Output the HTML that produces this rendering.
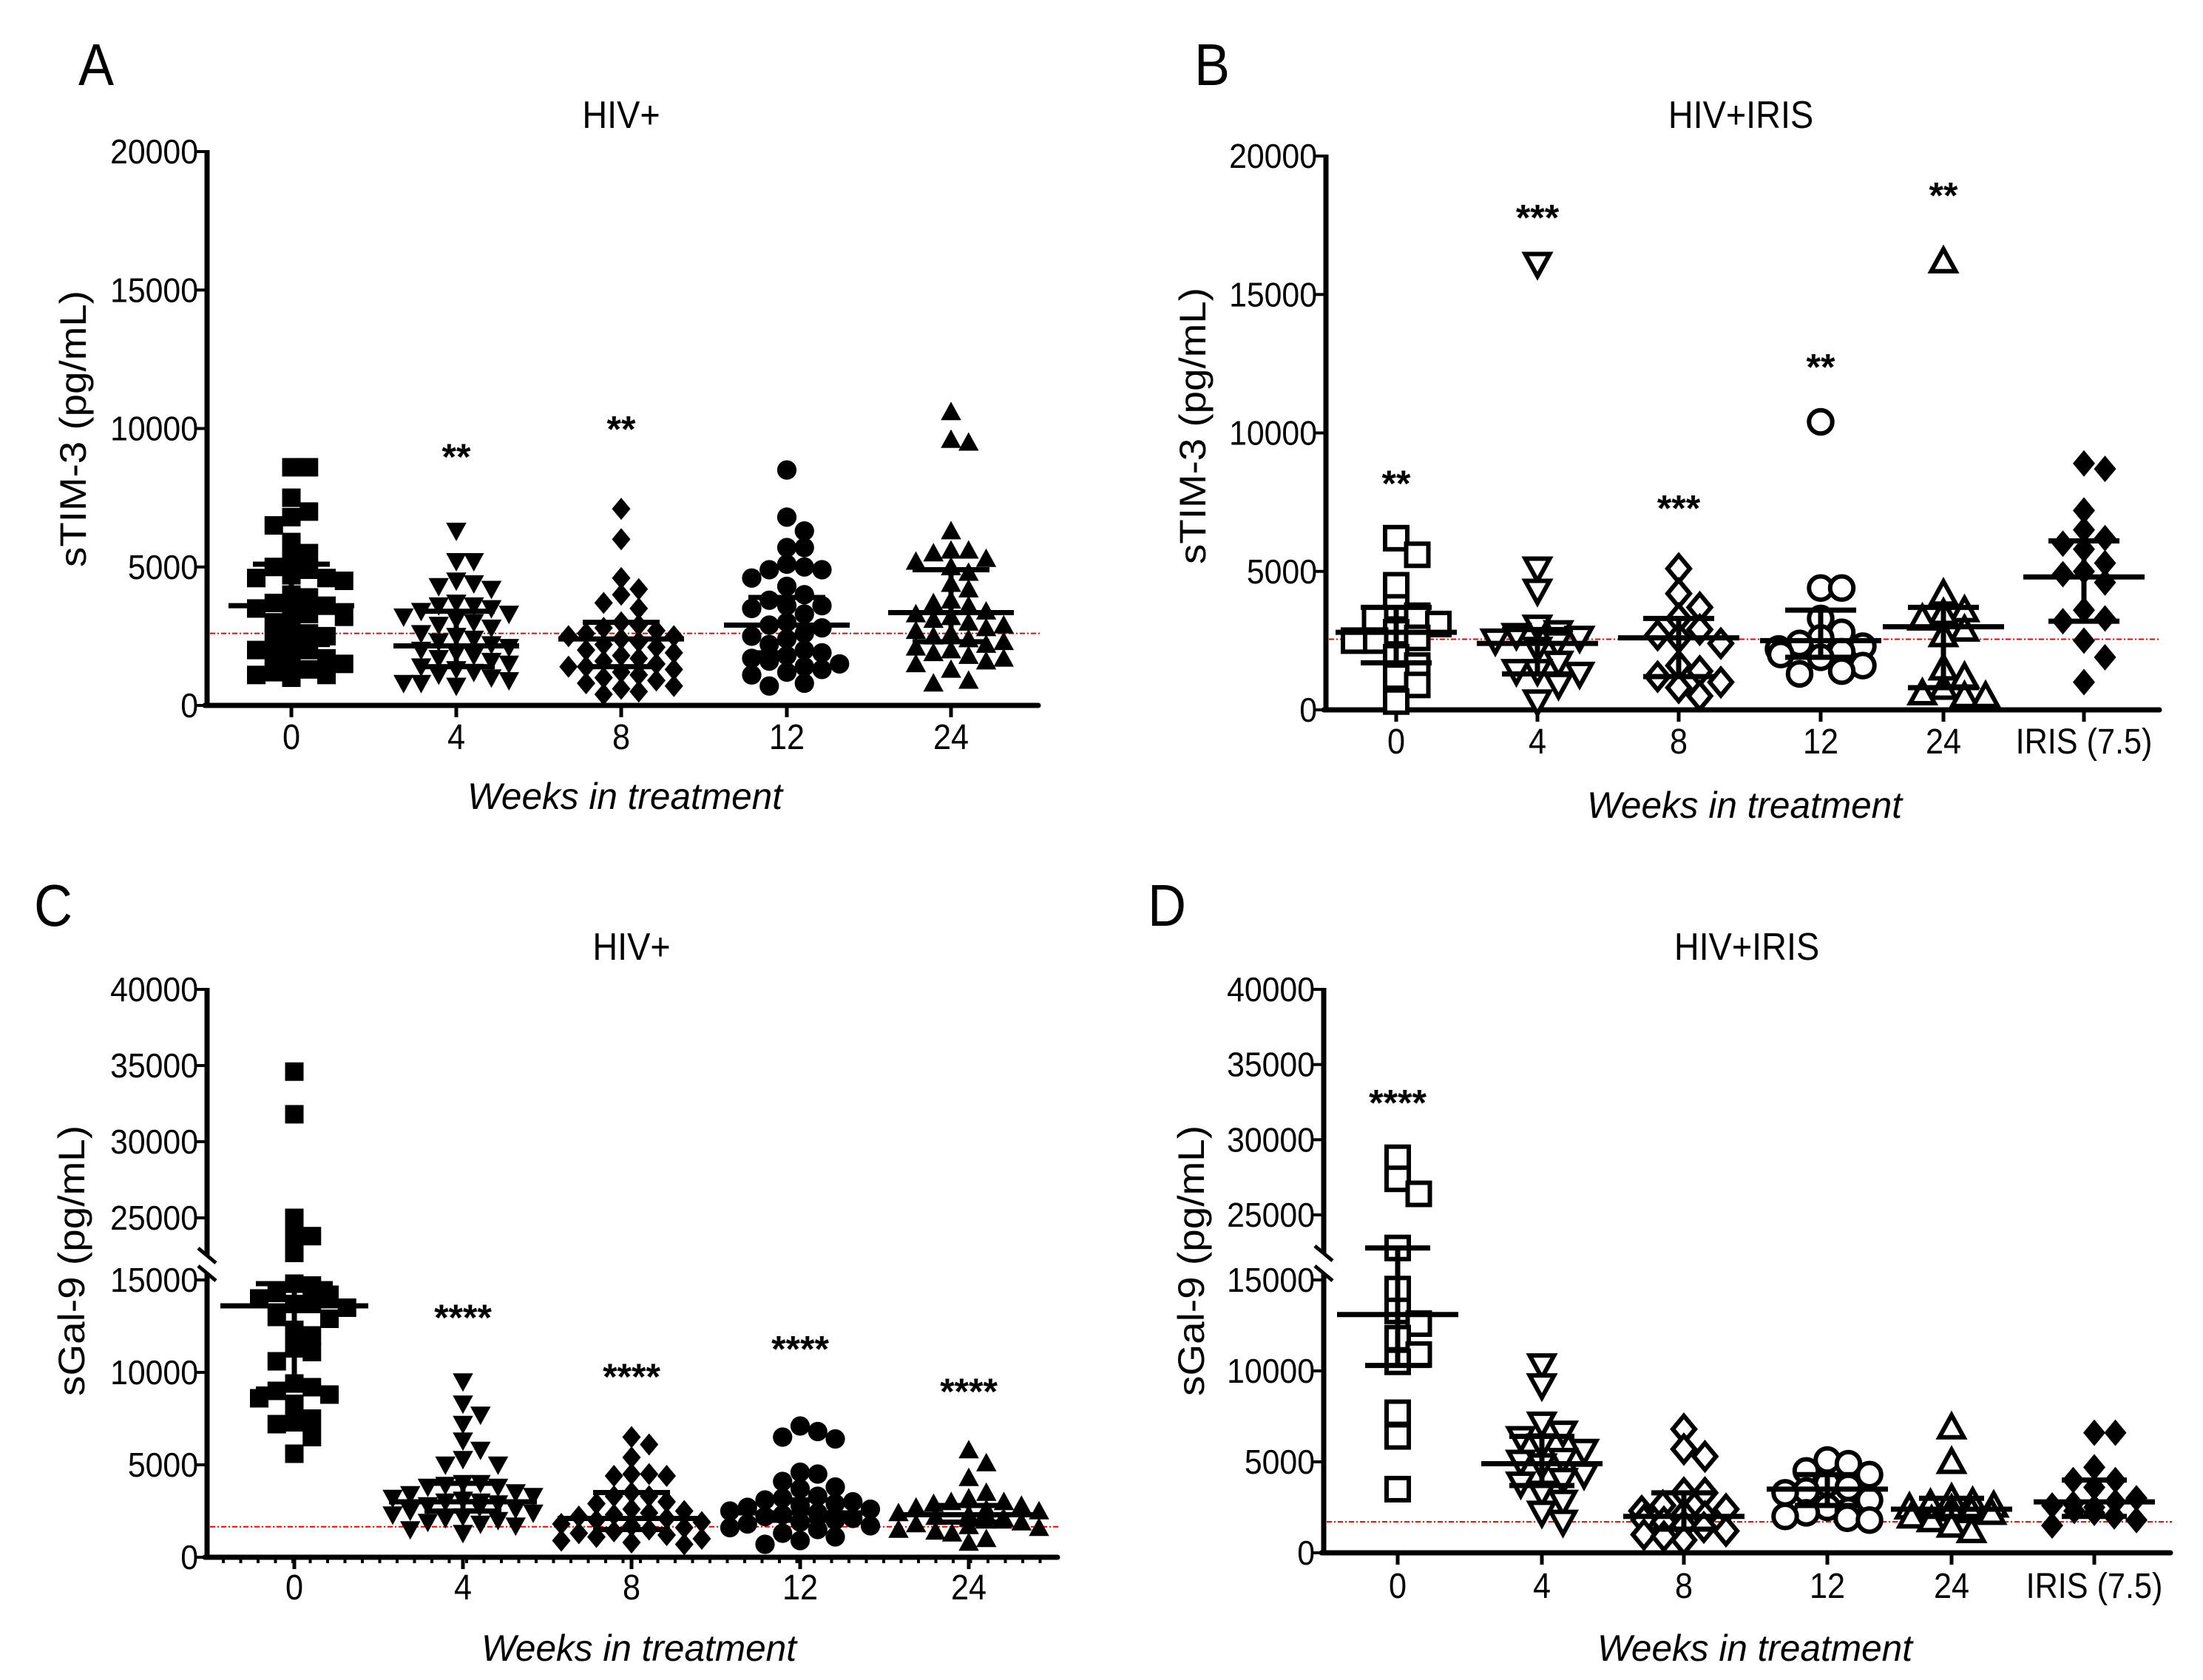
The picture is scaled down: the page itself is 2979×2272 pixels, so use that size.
<!DOCTYPE html>
<html><head><meta charset="utf-8"><style>
html,body{margin:0;padding:0;background:#fff;overflow:hidden;}
svg{display:block;}
text{font-family:"Liberation Sans",sans-serif;fill:#000;}
</style></head><body>
<svg id="fig" width="2979" height="2272" viewBox="0 0 2979 2272" xmlns="http://www.w3.org/2000/svg"></svg>
<script>
// ---------- DATA ----------
const catsAC = ["0","4","8","12","24"];
const catsBD = ["0","4","8","12","24","IRIS (7.5)"];

const A_w0 = [8600,8600,7500,7000,6800,6500,5900,5500,5300,4900,5000,4700,4600,4600,4500,4000,3900,3700,3600,3500,3400,3300,3200,3000,2800,2600,2500,2400,2200,2000,2000,1800,1700,1600,1500,1300,1200,1100,1100,1000];
const A_w4 = [6300,5200,5200,4500,4300,4200,4400,3700,3600,3600,3500,3400,3300,3200,3100,3000,2900,2800,2600,2500,2400,2300,2200,2100,2000,1900,1800,1700,1600,1500,1400,1300,1200,1100,1000,900,800,700,800];
const A_w8 = [7100,6000,4600,4200,4000,3700,3500,3000,2900,2800,2700,2600,2500,2500,2400,2300,2200,2100,2000,1900,1800,1700,1600,1500,1400,1400,1300,1200,1100,1000,900,800,700,600,500,400];
const A_w12 = [8500,6800,6300,5700,5700,5100,5000,4900,4900,4600,4300,4000,3800,3600,3600,3500,3300,3000,2900,2800,2600,2500,2400,2200,2000,1900,1800,1700,1600,1500,1400,1300,1200,1100,800,700];
const A_w24 = [10600,9600,9500,6300,5600,5600,5500,5300,5200,5000,4800,4400,4200,3800,3700,3600,3400,3300,3200,3100,3000,2900,2800,2700,2600,2500,2400,2300,2200,2100,2000,1900,1800,1700,1600,1500,1300,900,800];
const A_center = [3600,2150,2400,2900,3350];
const A_lo = [2200,1400,1400,1900,2300];
const A_hi = [5100,3400,3000,3900,4900];
const A_sig = ["","**","**","",""];
const A_sigY = [0,9000,10000,0,0];

const B_w0 = [6200,5600,4500,3700,3400,3300,3100,2800,2600,2500,2500,1900,1600,1200,900,300];
const B_w4 = [16100,5100,4300,3000,2800,2700,2600,2500,2400,2200,1700,1400,1400,1300,900,300];
const B_w8 = [5100,4200,3700,3300,2900,2700,2600,2400,1600,1400,1200,1000,800,500];
const B_w12 = [10400,4400,4400,3300,2800,2600,2400,2300,2200,2100,2000,1900,1600,1400,1300];
const B_w24 = [16200,4200,3600,3500,3300,2900,2700,1500,1200,800,600,500,500];
const B_iris = [8900,8700,7200,6500,6200,6000,5800,5300,5000,4900,4600,3600,3300,3200,2500,1900,1000];
const B_center = [2800,2400,2600,2500,3000,4800];
const B_lo = [1700,1300,1200,1900,800,3200];
const B_hi = [3700,2900,3300,3600,3700,6100];
const B_sig = ["**","***","***","**","**",""];
const B_sigY = [8200,17800,7300,12400,18600,0];

const C_w0 = [34600,31800,25000,23800,23800,22700,14800,14700,14300,14200,14000,13700,13700,13500,13000,12900,12300,12000,11300,11100,10600,9400,9200,9000,8800,8600,8300,7500,7300,7200,6500,5600];
const C_w4 = [9500,8300,7700,7200,6300,5800,5300,5000,5000,4000,4000,3900,3800,3800,3500,3400,3300,3200,3100,3000,3000,2900,2800,2700,2600,2500,2400,2300,2200,2100,2000,1900,1800,1700,1500,1300];
const C_w8 = [6500,6100,5400,4500,4500,4400,4400,3500,3300,3300,3000,2900,2600,2500,2400,2300,2200,2100,2000,1900,1800,1700,1600,1500,1400,1300,1200,1100,1000,900,800,700];
const C_w12 = [7100,6800,6500,6400,4600,4500,4100,3800,3700,3300,3200,3100,3000,2900,2800,2700,2600,2500,2400,2300,2200,2100,2000,1900,1800,1700,1600,1500,1300,1100,900,700];
const C_w24 = [5800,5100,4300,3500,3200,3000,3000,2900,2800,2700,2600,2500,2400,2400,2300,2200,2100,2100,2000,2000,1900,1800,1700,1600,1500,1400,1300,1000,800];
const C_center = [13600,3000,2100,2400,2300];
const C_lo = [9100,2500,1500,2000,1900];
const C_hi = [14800,4000,3500,3100,2800];
const C_sig = ["","****","****","****","****"];
const C_sigY = [0,13000,9800,11300,9000];

const D_w0 = [28800,27400,26400,22800,14500,13300,12600,11800,10900,10500,7700,6400,3500];
const D_w4 = [10300,9200,7100,6600,6300,5900,5600,5100,5000,4800,4300,4000,3800,3300,2800,2200,1700];
const D_w8 = [6800,5700,5300,3300,3300,2600,2400,2300,2100,2000,1800,1700,1500,1400,1200,1000,900,700];
const D_w12 = [5100,4900,4500,4300,3800,3600,3400,3300,2900,2500,2300,2200,2000,1900,1800];
const D_w24 = [6900,5000,3000,2800,2700,2600,2500,2400,2300,2200,2000,1800,1500,1200];
const D_iris = [6600,6600,4700,4000,4000,3600,3000,2800,2700,2600,2500,2300,2200,2000,1800,1500];
const D_center = [13100,4900,2000,3500,2400,2800];
const D_lo = [10300,3700,1300,2600,2000,2000];
const D_hi = [22800,6400,3300,4300,3000,4000];
const D_sig = ["****","","","","",""];
const D_sigY = [32500,0,0,0,0,0];

const refLineA = 2600, refLineB = 2550, refLineC = 1650, refLineD = 1700;

// ---------- DRAWING ----------
const NS = "http://www.w3.org/2000/svg";
const svg = document.getElementById("fig");
function mk(tag, attrs, parent){
  const e = document.createElementNS(NS, tag);
  for (const k in attrs) e.setAttribute(k, attrs[k]);
  (parent||svg).appendChild(e);
  return e;
}
function txt(parent, s, x, y, size, anchor, sx){
  const t = document.createElementNS(NS, "text");
  t.setAttribute("transform", `translate(${x},${y}) scale(${sx||1},1)`);
  t.setAttribute("font-size", size);
  t.setAttribute("text-anchor", anchor||"middle");
  t.textContent = s;
  parent.appendChild(t);
  return t;
}

function marker(g, shape, filled, cx, cy, s){
  const st = filled ? {fill:"#000", stroke:"none"} : {fill:"#fff", stroke:"#000", "stroke-width":6};
  const h = s/2;
  let e;
  if (shape==="square") e = mk("rect", Object.assign({x:cx-h, y:cy-h, width:s, height:s}, st), g);
  else if (shape==="circle") e = mk("circle", Object.assign({cx:cx, cy:cy, r:h*1.05}, st), g);
  else if (shape==="up") e = mk("polygon", Object.assign({points:`${cx},${cy-h*1.1} ${cx+h*1.1},${cy+h*0.9} ${cx-h*1.1},${cy+h*0.9}`}, st), g);
  else if (shape==="down") e = mk("polygon", Object.assign({points:`${cx},${cy+h*1.1} ${cx+h*1.1},${cy-h*0.9} ${cx-h*1.1},${cy-h*0.9}`}, st), g);
  else e = mk("polygon", Object.assign({points:`${cx},${cy-h*1.2} ${cx+h*1.0},${cy} ${cx},${cy+h*1.2} ${cx-h*1.0},${cy}`}, st), g);
  
  
}

function drawPanel(P){
  const g = mk("g", {});
  
  
  const y = P.y;
  const L = txt(g, P.letter, P.letterX, P.letterY, 80, "start", 0.9);
  
  
  const T = txt(g, P.title, P.titleX, P.titleY, 52, "middle", 0.9);
  
  
  const YL = document.createElementNS(NS, "text");
  YL.setAttribute("transform", `translate(${P.ylX},${P.ylY}) rotate(-90)`);
  YL.setAttribute("font-size", 50);
  YL.setAttribute("text-anchor", "middle");
  YL.setAttribute("textLength", P.ylLen);
  YL.setAttribute("lengthAdjust", "spacingAndGlyphs");
  YL.textContent = P.ylabel;
  g.appendChild(YL);
  
  
  const XL = document.createElementNS(NS, "text");
  XL.setAttribute("x", P.xlX); XL.setAttribute("y", P.xlY);
  XL.setAttribute("font-size", 50);
  XL.setAttribute("font-style", "italic");
  XL.setAttribute("text-anchor", "middle");
  XL.setAttribute("textLength", 426);
  XL.setAttribute("lengthAdjust", "spacingAndGlyphs");
  XL.textContent = "Weeks in treatment";
  g.appendChild(XL);
  
  
  const ax = P.axisX, y0 = y(0);
  if (P.brk){
    const a1 = mk("line", {x1:ax, y1:y0+3, x2:ax, y2:P.brk.lowTop, stroke:"#000", "stroke-width":7}, g);
    
    
    const a2 = mk("line", {x1:ax, y1:P.brk.upBot, x2:ax, y2:y(40000)-2, stroke:"#000", "stroke-width":7}, g);
    
    
    [P.brk.lowTop, P.brk.upBot].forEach(by=>{
      const b = mk("line", {x1:ax-12, y1:by-10, x2:ax+12, y2:by+10, stroke:"#000", "stroke-width":5}, g);
      
      
    });
  } else {
    const a = mk("line", {x1:ax, y1:y0+3, x2:ax, y2:y(P.ticks[P.ticks.length-1])-2, stroke:"#000", "stroke-width":7}, g);
    
    
  }
  const xa = mk("line", {x1:ax-3, y1:y0, x2:P.axisEnd, y2:y0, stroke:"#000", "stroke-width":7, "stroke-linecap":"round"}, g);
  
  
  if (P.minorX){
    for (let mx = ax+22; mx < P.axisEnd; mx += 23.5){
      const m = mk("line", {x1:mx, y1:y0, x2:mx, y2:y0+8, stroke:"#000", "stroke-width":4}, g);
      
      
    }
  }
  P.ticks.forEach(v=>{
    const ty = y(v);
    const t = mk("line", {x1:ax-14, y1:ty, x2:ax, y2:ty, stroke:"#000", "stroke-width":4}, g);
    
    
    const l = txt(g, String(v), ax-12, ty+16, 46, "end", 0.93);
    
    
  });
  const rl = mk("line", {x1:ax+4, y1:y(P.ref), x2:P.axisEnd+2, y2:y(P.ref), stroke:"#e00", "stroke-width":2, "stroke-dasharray":"7,3,2,3"}, g);
  
  
  P.cats.forEach((c,i)=>{
    const cx = P.catX[i];
    const t = mk("line", {x1:cx, y1:y0, x2:cx, y2:y0+16, stroke:"#000", "stroke-width":5}, g);
    
    
    const l = txt(g, c, cx, P.xtY, 48, "middle", 0.9);
    
    
    const vals = P.groups[i].slice().sort((a,b)=>b-a);
    const s = P.size, placed = [];
    const gg = mk("g", {}, g);
    
    
    vals.forEach(v=>{
      const py = y(v);
      let best = null;
      for (let k=0;k<14;k++){
        const off = (k===0)?0:((k%2)?1:-1)*Math.ceil(k/2)*s*0.95;
        if (Math.abs(off) > P.maxSpread) break;
        const ok = placed.every(p=>Math.abs(p[0]-off) >= s*0.9 || Math.abs(p[1]-py) >= s*0.85);
        if (ok){ best = off; break; }
      }
      if (best===null) best = ((placed.length%5)-2)*s*0.9;
      placed.push([best, py]);
      marker(gg, P.shapes[i], P.filled[i], cx+best, py, s);
    });
    const mw = P.meanW, cw = P.capW;
    const ms = mk("line", {x1:cx-mw, y1:y(P.center[i]), x2:cx+mw, y2:y(P.center[i]), stroke:"#000", "stroke-width":7}, g);
    
    
    const wv = mk("line", {x1:cx, y1:y(P.lo[i]), x2:cx, y2:y(P.hi[i]), stroke:"#000", "stroke-width":7}, g);
    
    
    [P.lo[i], P.hi[i]].forEach(v=>{
      const cp = mk("line", {x1:cx-cw, y1:y(v), x2:cx+cw, y2:y(v), stroke:"#000", "stroke-width":7}, g);
      
      
    });
    if (P.sig[i]){
      const sg = txt(g, P.sig[i], cx, y(P.sigY[i]) + 18, 50, "middle", 1);
      sg.setAttribute("font-weight", "bold");
      
      
    }
  });
}

const yA = v => 954 - v*(954-205)/20000;
const yB = v => 960 - v*(960-211)/20000;
const yC = v => v <= 17000 ? 2106 - v*375/15000 : 1647 - (v-25000)*103/5000;
const yD = v => v <= 17000 ? 2100 - v*369/15000 : 1643 - (v-25000)*(1643-1338)/15000;

drawPanel({name:"panel-a", letter:"A", letterX:106, letterY:115, title:"HIV+", titleX:840, titleY:173,
  ylabel:"sTIM-3 (pg/mL)", ylX:116, ylY:580, ylLen:374, xlX:845, xlY:1094, xtY:1013,
  y:yA, axisX:280, axisEnd:1404, ticks:[0,5000,10000,15000,20000], ref:refLineA,
  cats:catsAC, catX:[394,617,840,1064,1286], groups:[A_w0,A_w4,A_w8,A_w12,A_w24],
  shapes:["square","down","diamond","circle","up"], filled:[1,1,1,1,1],
  center:A_center, lo:A_lo, hi:A_hi, sig:A_sig, sigY:A_sigY, size:25, maxSpread:100, meanW:85, capW:52});

drawPanel({name:"panel-b", letter:"B", letterX:1615, letterY:115, title:"HIV+IRIS", titleX:2354, titleY:173,
  ylabel:"sTIM-3 (pg/mL)", ylX:1630, ylY:576, ylLen:374, xlX:2359, xlY:1106, xtY:1019,
  y:yB, axisX:1793, axisEnd:2920, ticks:[0,5000,10000,15000,20000], ref:refLineB,
  cats:catsBD, catX:[1888,2079,2270,2462,2628,2818], groups:[B_w0,B_w4,B_w8,B_w12,B_w24,B_iris],
  shapes:["square","down","diamond","circle","up","diamond"], filled:[0,0,0,0,0,1],
  center:B_center, lo:B_lo, hi:B_hi, sig:B_sig, sigY:B_sigY, size:30, maxSpread:85, meanW:82, capW:48});

drawPanel({name:"panel-c", letter:"C", letterX:46, letterY:1252, title:"HIV+", titleX:854, titleY:1298,
  ylabel:"sGal-9 (pg/mL)", ylX:114, ylY:1705, ylLen:366, xlX:864, xlY:2246, xtY:2163,
  y:yC, axisX:280, axisEnd:1430, ticks:[0,5000,10000,15000,25000,30000,35000,40000], ref:refLineC,
  brk:{lowTop:1722, upBot:1698}, minorX:true,
  cats:catsAC, catX:[398,626,854,1082,1310], groups:[C_w0,C_w4,C_w8,C_w12,C_w24],
  shapes:["square","down","diamond","circle","up"], filled:[1,1,1,1,1],
  center:C_center, lo:C_lo, hi:C_hi, sig:C_sig, sigY:C_sigY, size:25, maxSpread:105, meanW:100, capW:52});

drawPanel({name:"panel-d", letter:"D", letterX:1552, letterY:1252, title:"HIV+IRIS", titleX:2362, titleY:1298,
  ylabel:"sGal-9 (pg/mL)", ylX:1628, ylY:1705, ylLen:366, xlX:2373, xlY:2246, xtY:2161,
  y:yD, axisX:1790, axisEnd:2935, ticks:[0,5000,10000,15000,25000,30000,35000,40000], ref:refLineD,
  brk:{lowTop:1722, upBot:1695},
  cats:catsBD, catX:[1890,2085,2277,2471,2639,2832], groups:[D_w0,D_w4,D_w8,D_w12,D_w24,D_iris],
  shapes:["square","down","diamond","circle","up","diamond"], filled:[0,0,0,0,0,1],
  center:D_center, lo:D_lo, hi:D_hi, sig:D_sig, sigY:D_sigY, size:30, maxSpread:85, meanW:82, capW:44});
</script>
</body></html>
